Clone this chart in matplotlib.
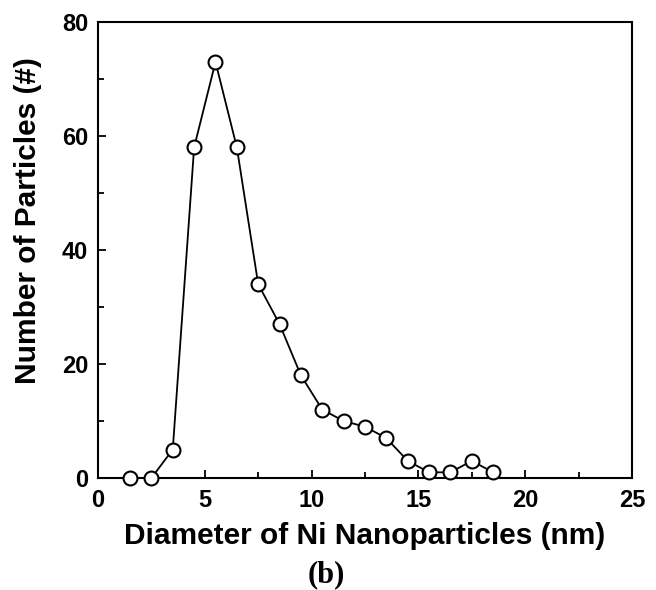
import matplotlib
matplotlib.use("Agg")
import matplotlib.pyplot as plt
from matplotlib.ticker import MultipleLocator

diameter = [1.5, 2.5, 3.5, 4.5, 5.5, 6.5, 7.5, 8.5, 9.5, 10.5, 11.5, 12.5, 13.5, 14.5, 15.5, 16.5, 17.5, 18.5]
count = [0, 0, 5, 58, 73, 58, 34, 27, 18, 12, 10, 9, 7, 3, 1, 1, 3, 1]

plt.rcParams['font.family'] = ['Liberation Sans', 'DejaVu Sans']
plt.rcParams['font.weight'] = 'bold'

fig = plt.figure(figsize=(6.56, 5.90), dpi=100)
ax = fig.add_axes([0.1494, 0.1898, 0.814, 0.7729])

ax.plot(diameter, count, color="black", lw=1.3, marker="o", ms=10,
        mfc="white", mec="black", mew=1.5, clip_on=False, zorder=3)

ax.set_xlim(0, 25)
ax.set_ylim(0, 80)
ax.xaxis.set_major_locator(MultipleLocator(5))
ax.xaxis.set_minor_locator(MultipleLocator(2.5))
ax.yaxis.set_major_locator(MultipleLocator(20))
ax.yaxis.set_minor_locator(MultipleLocator(10))
ax.tick_params(which="both", direction="in", width=1.3, labelsize=17)
ax.tick_params(axis="y", pad=7)
ax.tick_params(axis="x", pad=8)
ax.tick_params(which="major", length=6)
ax.tick_params(which="minor", length=4)
for s in ax.spines.values():
    s.set_linewidth(1.5)

ax.set_xlabel("Diameter of Ni Nanoparticles (nm)", fontsize=21.5, fontweight="bold", labelpad=7)
ax.set_ylabel("Number of Particles (#)", fontsize=21.5, fontweight="bold")
ax.yaxis.set_label_coords(-0.104, 0.565)

fig.text(0.498, 0.026, "(b)", fontsize=22, fontweight="bold",
         family=["Liberation Serif", "DejaVu Serif"], ha="center", va="center")

fig.savefig("out.png", dpi=100)
